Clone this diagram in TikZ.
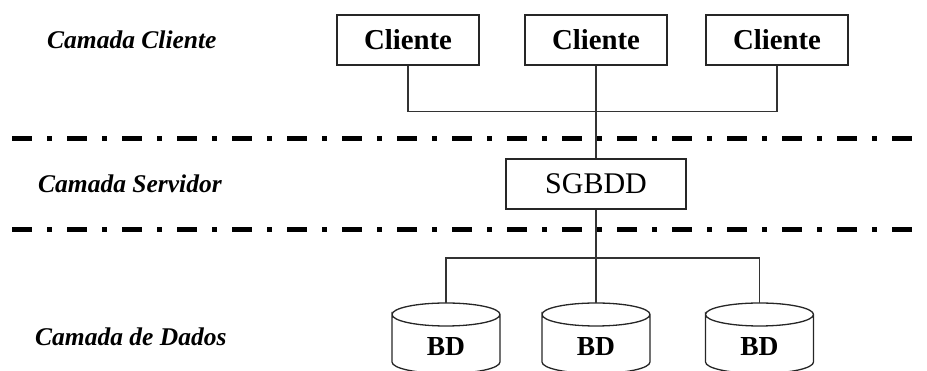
\documentclass[tikz,border=0pt]{standalone}
\usepackage{fontspec}
\setmainfont{Liberation Serif}
\usetikzlibrary{calc}
\begin{document}
\begin{tikzpicture}[x=1pt,y=1pt,
  box/.style={draw=black!85,line width=1.3pt,rectangle,inner sep=0pt},
  clientbox/.style={box,minimum width=142pt,minimum height=50pt,
    font=\fontsize{28.8}{30}\selectfont\bfseries},
  serverbox/.style={box,minimum width=180pt,minimum height=50pt,
    font=\fontsize{30}{32}\selectfont},
  dbtext/.style={inner sep=0pt,font=\fontsize{27.5}{29}\selectfont\bfseries},
  layer/.style={anchor=west,inner sep=0pt,font=\fontsize{25.5}{27}\selectfont\bfseries\itshape},
  link/.style={draw=black!80,line width=1.2pt},
  tierline/.style={line width=5pt,dash pattern=on 20pt off 15pt on 5pt off 15pt},
  cyl/.style={draw=black!85,line width=1.3pt}]
\useasboundingbox (0,0) rectangle (927,371);
\clip (0,0) rectangle (927,371);

% tier separators
\coordinate (d1a) at (12,232);
\coordinate (d1b) at (927,232);
\coordinate (d2a) at (12,141);
\coordinate (d2b) at (927,141);
\draw[tierline] (d1a) -- (d1b);
\draw[tierline] (d2a) -- (d2b);

% tier labels
\node[layer] (lc) at (47,331) {Camada Cliente};
\node[layer] (ls) at (38,187) {Camada Servidor};
\node[layer] (ld) at (35,34) {Camada de Dados};

% clients
\node[clientbox] (c1) at (408,331) {Cliente};
\node[clientbox] (c2) at (596,331) {Cliente};
\node[clientbox] (c3) at (777,331) {Cliente};

% server
\node[serverbox] (sg) at (596,187) {SGBDD};

% databases
\node[dbtext] (bd1) at (446,24) {BD};
\node[dbtext] (bd2) at (596,24) {BD};
\node[dbtext] (bd3) at (759.5,24) {BD};
\foreach \b in {bd1,bd2,bd3}{
  \coordinate (\b top) at ($(\b)+(0,44)$);
  \draw[cyl] ($(\b)+(-54,32.5)$) arc[start angle=180,end angle=-180,x radius=54pt,y radius=11.5pt]
    -- ($(\b)+(-54,-15)$) arc[start angle=180,end angle=360,x radius=54pt,y radius=11.5pt]
    -- ($(\b)+(54,32.5)$);
}

% connectors
\draw[link] (c1.south) -- ++(0,-46) -| (c3.south);
\draw[link] (c2.south) -- (sg.north);
\draw[link] (sg.south) -- (bd2top);
\draw[link] (bd1top) -- ++(0,45) -| (bd3top);
\end{tikzpicture}
\end{document}
